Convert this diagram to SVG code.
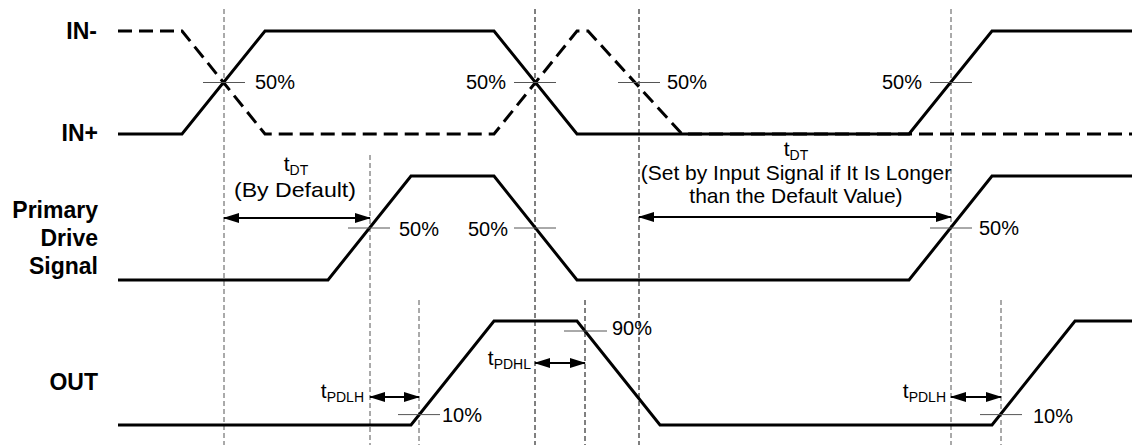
<svg xmlns="http://www.w3.org/2000/svg" width="1132" height="445" viewBox="0 0 1132 445">
<style>
.sig{fill:none;stroke:#000;stroke-width:3;stroke-linejoin:miter}
.sigd{fill:none;stroke:#000;stroke-width:3;stroke-dasharray:14,7}
.vg{stroke:#555;stroke-width:1;stroke-dasharray:5,3}
.vb{stroke:#000;stroke-width:1;stroke-dasharray:5,3}
.tick{stroke:#555;stroke-width:1}
.arr{stroke:#000;stroke-width:2;marker-start:url(#ah);marker-end:url(#ah)}
.lbl{font-family:"Liberation Sans",Arial,sans-serif;font-size:23px;font-weight:bold;fill:#000;text-anchor:end}
.t{font-family:"Liberation Sans",Arial,sans-serif;font-size:20px;fill:#000}
.d{font-size:21px}
.sub{font-size:14px}
</style>
<defs>
<marker id="ah" viewBox="0 0 16 10" refX="15" refY="5" markerWidth="16" markerHeight="10" markerUnits="userSpaceOnUse" orient="auto-start-reverse">
<path d="M0,0 L16,5 L0,10 z" fill="#000"/>
</marker>
</defs>
<rect width="1132" height="445" fill="#fff"/>

<g id="guides">
<line class="vg" x1="224" y1="9" x2="224" y2="445"/>
<line class="vb" x1="535" y1="9" x2="535" y2="445"/>
<line class="vb" x1="639" y1="9" x2="639" y2="445"/>
<line class="vg" x1="951" y1="9" x2="951" y2="445"/>
<line class="vg" x1="370" y1="155" x2="370" y2="445"/>
<line class="vg" x1="419" y1="300" x2="419" y2="445"/>
<line class="vb" x1="585" y1="300" x2="585" y2="445"/>
<line class="vg" x1="1001" y1="300" x2="1001" y2="445"/>
</g>

<g id="labels">
<text class="lbl" x="97" y="39">IN-</text>
<text class="lbl" x="98" y="141">IN+</text>
<text class="lbl" x="98" y="218">Primary</text>
<text class="lbl" x="98" y="246">Drive</text>
<text class="lbl" x="98" y="274">Signal</text>
<text class="lbl" x="98" y="390">OUT</text>
</g>

<g id="in-signals">
<path class="sigd" d="M118,31 L182,31 L265,134 L494,134 L577,31 L588,31 L682,134 L1132,134"/>
<path class="sig" d="M118,134 L182,134 L265,31 L494,31 L577,134 L909,134 L992,31 L1132,31"/>
</g>

<g id="primary-signal">
<path class="sig" d="M118,280 L328,280 L411,176 L494,176 L577,280 L909,280 L992,176 L1132,176"/>
</g>

<g id="out-signal">
<path class="sig" d="M118,425 L411,425 L494,321 L577,321 L660,425 L992,425 L1075,321 L1132,321"/>
</g>

<g id="ticks">
<line class="tick" x1="203" y1="82.5" x2="245" y2="82.5"/>
<line class="tick" x1="514" y1="82.5" x2="556" y2="82.5"/>
<line class="tick" x1="618" y1="82.5" x2="660" y2="82.5"/>
<line class="tick" x1="930" y1="82.5" x2="972" y2="82.5"/>
<line class="tick" x1="348" y1="228" x2="390" y2="228"/>
<line class="tick" x1="514" y1="228" x2="556" y2="228"/>
<line class="tick" x1="930" y1="228" x2="972" y2="228"/>
<line class="tick" x1="398" y1="414.6" x2="440" y2="414.6"/>
<line class="tick" x1="564" y1="331" x2="607" y2="331"/>
<line class="tick" x1="980" y1="414.6" x2="1022" y2="414.6"/>
</g>

<g id="percent-labels">
<text class="t" x="255" y="89">50%</text>
<text class="t" x="466" y="89">50%</text>
<text class="t" x="667" y="89">50%</text>
<text class="t" x="882" y="89">50%</text>
<text class="t" x="399" y="236">50%</text>
<text class="t" x="468" y="236">50%</text>
<text class="t" x="979" y="235">50%</text>
<text class="t" x="442" y="422">10%</text>
<text class="t" x="612" y="335">90%</text>
<text class="t" x="1033" y="423">10%</text>
</g>

<g id="connectors">
<line class="arr" x1="224" y1="218" x2="370" y2="218"/>
<line class="arr" x1="639" y1="217" x2="951" y2="217"/>
<line class="arr" x1="370" y1="397" x2="419" y2="397"/>
<line class="arr" x1="535" y1="363" x2="585" y2="363"/>
<line class="arr" x1="951" y1="397" x2="1001" y2="397"/>
</g>

<g id="timing-labels">
<text class="t d" x="296" y="171" text-anchor="middle">t<tspan class="sub" dy="4">DT</tspan></text>
<text class="t d" x="234" y="197" textLength="122" lengthAdjust="spacingAndGlyphs">(By Default)</text>
<text class="t d" x="796" y="156" text-anchor="middle">t<tspan class="sub" dy="4">DT</tspan></text>
<text class="t d" x="796" y="180" text-anchor="middle">(Set by Input Signal if It Is Longer</text>
<text class="t d" x="796" y="203" text-anchor="middle">than the Default Value)</text>
<text class="t d" x="364" y="398" text-anchor="end">t<tspan class="sub" dy="4">PDLH</tspan></text>
<text class="t d" x="531" y="365" text-anchor="end">t<tspan class="sub" dy="4">PDHL</tspan></text>
<text class="t d" x="946" y="398" text-anchor="end">t<tspan class="sub" dy="4">PDLH</tspan></text>
</g>
</svg>
